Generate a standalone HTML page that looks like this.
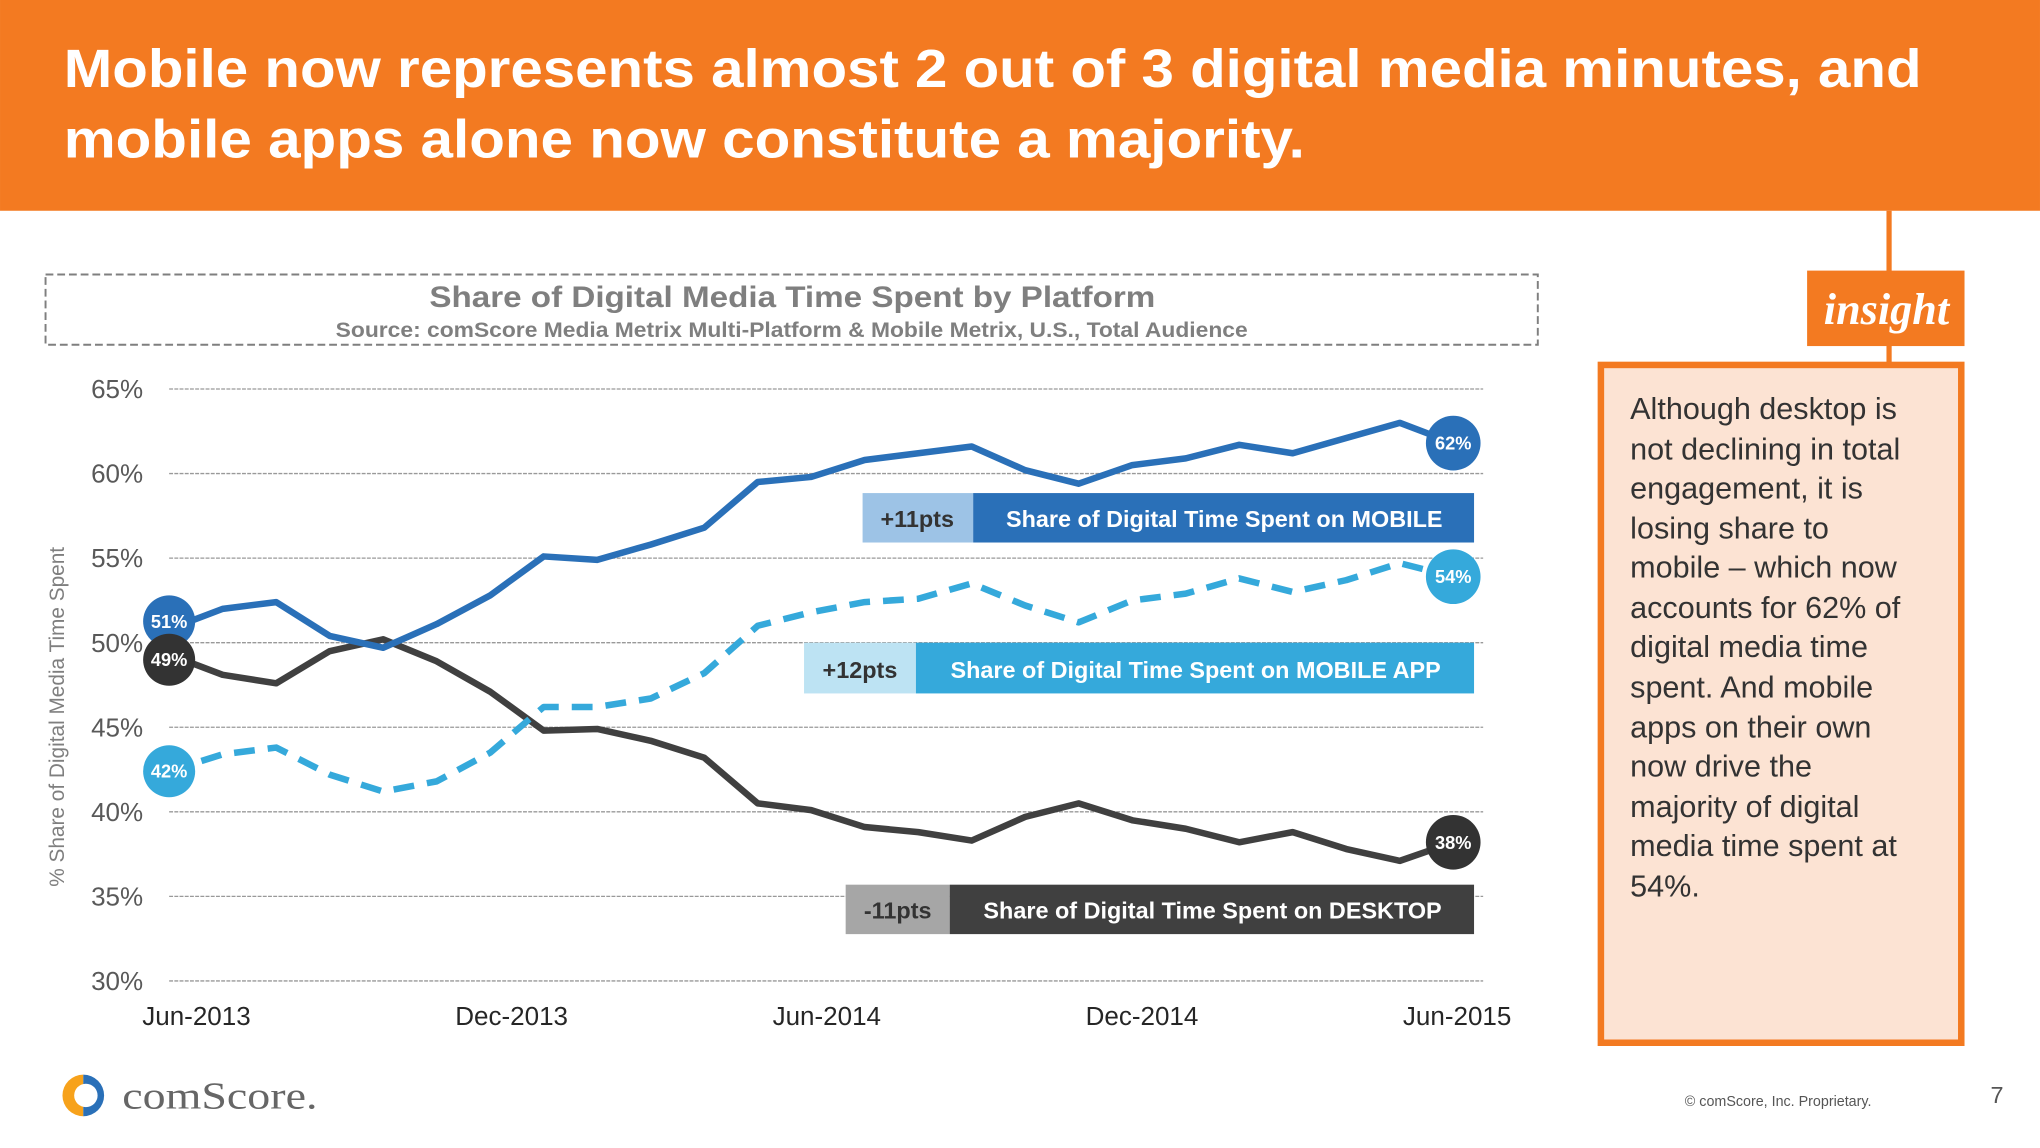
<!DOCTYPE html>
<html><head><meta charset="utf-8"><style>
html,body{margin:0;padding:0;background:#fff;}
svg{display:block;font-family:"Liberation Sans",Arial,sans-serif;}
</style></head><body>
<svg width="2040" height="1148" viewBox="0 0 1568 882.4" xmlns="http://www.w3.org/2000/svg">
<rect x="0" y="0" width="1568" height="162" fill="#F37A21"/>
<text x="49" y="67" font-size="41" font-weight="bold" fill="#fff" textLength="1428" lengthAdjust="spacingAndGlyphs">Mobile now represents almost 2 out of 3 digital media minutes, and</text>
<text x="49" y="121" font-size="41" font-weight="bold" fill="#fff" textLength="954" lengthAdjust="spacingAndGlyphs">mobile apps alone now constitute a majority.</text>

<rect x="35" y="211" width="1147" height="54" fill="none" stroke="#7f7f7f" stroke-width="1.5" stroke-dasharray="6,3"/>
<text x="330" y="236" font-size="23" font-weight="bold" fill="#7f7f7f" textLength="558" lengthAdjust="spacingAndGlyphs">Share of Digital Media Time Spent by Platform</text>
<text x="258" y="259" font-size="16" font-weight="bold" fill="#7f7f7f" textLength="701" lengthAdjust="spacingAndGlyphs">Source: comScore Media Metrix Multi-Platform &amp; Mobile Metrix, U.S., Total Audience</text>

<g id="grid"></g>
<g id="ylabels"></g>
<g id="xlabels"></g>
<text transform="translate(49,551) rotate(-90)" font-size="16" fill="#7f7f7f" text-anchor="middle">% Share of Digital Media Time Spent</text>

<g id="series"></g>

<g>
<rect x="663" y="379" width="85" height="38" fill="#9DC3E6"/>
<rect x="748" y="379" width="385" height="38" fill="#2A70B8"/>
<text x="705" y="405" font-size="18" font-weight="bold" fill="#333" text-anchor="middle">+11pts</text>
<text x="941" y="405" font-size="18" font-weight="bold" fill="#fff" text-anchor="middle">Share of Digital Time Spent on MOBILE</text>
</g>
<g>
<rect x="618" y="494" width="86" height="39" fill="#BDE3F3"/>
<rect x="704" y="494" width="429" height="39" fill="#35A9DB"/>
<text x="661" y="521" font-size="18" font-weight="bold" fill="#333" text-anchor="middle">+12pts</text>
<text x="919" y="521" font-size="18" font-weight="bold" fill="#fff" text-anchor="middle">Share of Digital Time Spent on MOBILE APP</text>
</g>
<g>
<rect x="650" y="680" width="80" height="38" fill="#A6A6A6"/>
<rect x="730" y="680" width="403" height="38" fill="#404040"/>
<text x="690" y="706" font-size="18" font-weight="bold" fill="#333" text-anchor="middle">-11pts</text>
<text x="932" y="706" font-size="18" font-weight="bold" fill="#fff" text-anchor="middle">Share of Digital Time Spent on DESKTOP</text>
</g>

<rect x="1450" y="162" width="4" height="120" fill="#F37A21"/>
<rect x="1389" y="208" width="121" height="58" fill="#F37A21"/>
<text x="1450" y="249" font-size="34" font-weight="bold" font-style="italic" fill="#fff" text-anchor="middle" font-family="Liberation Serif,serif">insight</text>
<rect x="1230.5" y="280.5" width="277" height="521" fill="#FCE3D3" stroke="#F37A21" stroke-width="5"/>
<g font-size="23.5" fill="#333">
<text x="1253" y="322">Although desktop is</text>
<text x="1253" y="353">not declining in total</text>
<text x="1253" y="383">engagement, it is</text>
<text x="1253" y="414">losing share to</text>
<text x="1253" y="444">mobile – which now</text>
<text x="1253" y="475">accounts for 62% of</text>
<text x="1253" y="505">digital media time</text>
<text x="1253" y="536">spent. And mobile</text>
<text x="1253" y="567">apps on their own</text>
<text x="1253" y="597">now drive the</text>
<text x="1253" y="628">majority of digital</text>
<text x="1253" y="658">media time spent at</text>
<text x="1253" y="689">54%.</text>
</g>

<g>
<path d="M64 826 A16 16 0 0 0 64 858 Z" fill="#F7A21B"/>
<path d="M64 826 A16 16 0 0 1 64 858 Z" fill="#2A70B8"/>
<circle cx="66" cy="842" r="9" fill="#fff"/>
<text x="94" y="852" font-size="29" fill="#666" font-family="Liberation Serif,serif" textLength="150" lengthAdjust="spacingAndGlyphs">comScore.</text>
</g>
<text x="1295" y="850" font-size="11" fill="#555">© comScore, Inc. Proprietary.</text>
<text x="1530" y="848" font-size="18" fill="#555">7</text>
</svg>
<script>
const yTicks = [65,60,55,50,45,40,35,30];
const yTickLabels = ["65%","60%","55%","50%","45%","40%","35%","30%"];
const xTickLabels = ["Jun-2013","Dec-2013","Jun-2014","Dec-2014","Jun-2015"];
const xTickIndex = [0,6,12,18,24];
const mobile = [50.8,52.0,52.4,50.4,49.7,51.1,52.8,55.1,54.9,55.8,56.8,59.5,59.8,60.8,61.2,61.6,60.2,59.4,60.5,60.9,61.7,61.2,62.1,63.0,61.8];
const mobileApp = [42.4,43.4,43.8,42.2,41.2,41.8,43.5,46.2,46.2,46.7,48.2,51.0,51.8,52.4,52.6,53.5,52.2,51.2,52.5,52.9,53.8,53.0,53.7,54.7,53.9];
const desktop = [49.3,48.1,47.6,49.5,50.2,48.9,47.1,44.8,44.9,44.2,43.2,40.5,40.1,39.1,38.8,38.3,39.7,40.5,39.5,39.0,38.2,38.8,37.8,37.1,38.2];
const startLabels = ["51%","42%","49%"];
const endLabels = ["62%","54%","38%"];

const NS="http://www.w3.org/2000/svg";
const x=i=>130+i*(987/24);
const y=v=>299+(65-v)*13;
function mk(tag,attrs,parent,txt){const e=document.createElementNS(NS,tag);for(const k in attrs)e.setAttribute(k,attrs[k]);if(txt!==undefined)e.textContent=txt;parent.appendChild(e);return e;}
const grid=document.getElementById('grid'),yl=document.getElementById('ylabels'),xl=document.getElementById('xlabels'),ser=document.getElementById('series');
yTicks.forEach((t,k)=>{
 const l=mk('line',{x1:130,x2:1140,y1:y(t),y2:y(t),stroke:'#999','stroke-width':1,'stroke-dasharray':'3,1'},grid);
 
 
 const tx=mk('text',{x:110,y:y(t)+7,'font-size':20,fill:'#595959','text-anchor':'end'},yl,yTickLabels[k]);
 
 
});
xTickIndex.forEach((ix,k)=>{
 const tx=mk('text',{x:151+k*242.25,y:788,'font-size':20,fill:'#262626','text-anchor':'middle'},xl,xTickLabels[k]);
 
 
});
const series=[
 {d:desktop,c:'#404040',dash:null,name:'desktop'},
 {d:mobileApp,c:'#35A9DB',dash:'16,10',name:'mobile-app'},
 {d:mobile,c:'#2A70B8',dash:null,name:'mobile'}
];
series.forEach(s=>{
 const pts=s.d.map((v,i)=>x(i).toFixed(1)+','+y(v).toFixed(1)).join(' ');
 const a={points:pts,fill:'none',stroke:s.c,'stroke-width':5,'stroke-linejoin':'round'};
 if(s.dash)a['stroke-dasharray']=s.dash;
 const p=mk('polyline',a,ser);
 
 
});
const starts=[{d:mobile,c:'#2A70B8',dy:-6},{d:mobileApp,c:'#35A9DB',dy:0},{d:desktop,c:'#333',dy:4}];
starts.forEach((s,k)=>{
 const cy=y(s.d[0])+s.dy;
 const c=mk('circle',{cx:130,cy:cy,r:20,fill:s.c},ser);
 
 
 const t=mk('text',{x:130,y:cy+5,'font-size':14,'font-weight':'bold',fill:'#fff','text-anchor':'middle'},ser,startLabels[k]);
 
 
});
starts.forEach((s,k)=>{
 const cy=y(s.d[24]);
 const c=mk('circle',{cx:x(24),cy:cy,r:21,fill:s.c},ser);
 
 
 const t=mk('text',{x:x(24),y:cy+5,'font-size':14,'font-weight':'bold',fill:'#fff','text-anchor':'middle'},ser,endLabels[k]);
 
 
});
</script>
</body></html>
